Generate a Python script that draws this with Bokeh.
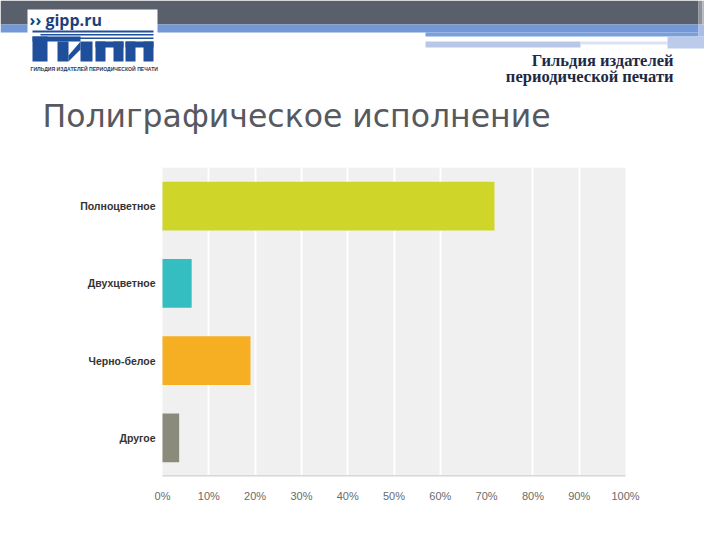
from bokeh.plotting import figure
from bokeh.models import (ColumnDataSource, FactorRange, Range1d, FixedTicker,
                          PrintfTickFormatter, Label, BoxAnnotation)
from bokeh.layouts import column
from bokeh.embed import file_html
from bokeh.resources import INLINE

# ---- data ----
categories = ["Полноцветное", "Двухцветное", "Черно-белое", "Другое"]
values = [71.7, 6.3, 19.0, 3.6]
bar_colors = ["#d0d52a", "#35bec1", "#f6ae23", "#8b8b7c"]
x_ticks = [0, 10, 20, 30, 40, 50, 60, 70, 80, 90, 100]
grid_ticks = [10, 20, 30, 40, 50, 60, 80, 90]

title_text = "Полиграфическое исполнение"
org_line1 = "Гильдия издателей"
org_line2 = "периодической печати"
logo_small = "ГИЛЬДИЯ ИЗДАТЕЛЕЙ ПЕРИОДИЧЕСКОЙ ПЕЧАТИ"

W = 704
HEAD_H = 152
CHART_H = 372

# ---- header (slide decoration) ----
h = figure(width=W, height=HEAD_H, x_range=Range1d(0, W), y_range=Range1d(HEAD_H, 0),
           output_backend="svg", toolbar_location=None,
           x_axis_location=None, y_axis_location=None, min_border=0)
h.outline_line_color = None
h.grid.visible = False
h.background_fill_color = "white"
h.border_fill_color = "white"

# dark band
h.quad(left=[0], right=[698], top=[0], bottom=[24], color="#595f6b", line_color=None)
h.quad(left=[698, 702, 706, 710], right=[702, 706, 710, 720], top=[0]*4, bottom=[24]*4,
       color=["#8e939b", "#b4b7bc", "#a3a7ad", "#c9cacc"], line_color=None)
# blue bands
h.quad(left=[0], right=[698], top=[24], bottom=[32], color="#7298d8", line_color=None)
h.quad(left=[425], right=[698], top=[32], bottom=[36], color="#7a9fdc", line_color=None)
h.quad(left=[425], right=[580], top=[41], bottom=[47], color="#b9c7e6", line_color=None)
h.quad(left=[580], right=[667], top=[41], bottom=[44], color="#dbe3f3", line_color=None)
h.quad(left=[667], right=[720], top=[36], bottom=[48], color="#bccbeb", line_color=None)
h.quad(left=[698], right=[720], top=[24], bottom=[36], color="#a9bde6", line_color=None)

# logo box
h.quad(left=[27], right=[157], top=[9], bottom=[64], color="white", line_color=None)
h.add_layout(Label(x=29, y=19, text="›› gipp.ru", text_font="Open Sans",
                   text_font_style="bold", text_font_size="16px", text_color="#1e3f7c",
                   text_baseline="middle"))
logo_blue = "#1f4f9b"
# top stripes
h.quad(left=[32, 40, 48], right=[153, 153, 153], top=[30, 33.5, 37], bottom=[32, 35, 38.5],
       color=logo_blue, line_color=None)
# Г
h.quad(left=[32, 32], right=[80, 47], top=[36, 36], bottom=[41, 61], color=logo_blue, line_color=None)
# И legs
h.quad(left=[57, 80], right=[68, 92], top=[41, 41], bottom=[61, 61], color=logo_blue, line_color=None)
h.patch(x=[68, 80, 80, 68], y=[55, 41, 49, 61], color=logo_blue, line_color=None)
# П П
h.quad(left=[95, 95, 113, 125, 125, 143], right=[123, 105, 123, 153, 135, 153],
       top=[41, 41, 41, 41, 41, 41], bottom=[47, 61, 61, 47, 61, 61],
       color=logo_blue, line_color=None)
h.add_layout(Label(x=30, y=68.5, text=logo_small, text_font="Liberation Sans",
                   text_font_style="bold", text_font_size="5.1px", text_color="#2a3a5a",
                   text_baseline="middle"))

# organisation name
h.add_layout(Label(x=673, y=60, text=org_line1, text_font="Liberation Serif",
                   text_font_style="bold", text_font_size="16.5px", text_color="#1d2a45",
                   text_align="right", text_baseline="middle"))
h.add_layout(Label(x=673, y=75.5, text=org_line2, text_font="Liberation Serif",
                   text_font_style="bold", text_font_size="16.5px", text_color="#1d2a45",
                   text_align="right", text_baseline="middle"))

# title
h.add_layout(Label(x=42, y=115, text=title_text, text_font="DejaVu Sans",
                   text_font_size="31.5px", text_color="#56595f",
                   text_baseline="middle"))

# ---- chart ----
# frame spans the full width; the 0..100 % scale maps to pixels 162..625
X0, X100 = 162, 625
ppu = (X100 - X0) / 100.0
x_start = -X0 / ppu
x_end = 100 + (W - X100) / ppu

src = ColumnDataSource(dict(cat=categories, val=values, col=bar_colors))
p = figure(width=W, height=CHART_H, y_range=FactorRange(factors=list(reversed(categories))),
           x_range=Range1d(x_start, x_end), output_backend="svg", toolbar_location=None,
           y_axis_location=None,
           min_border_left=0, min_border_right=0, min_border_top=15, min_border_bottom=48)
p.y_range.range_padding = 0

# plot-area background only over 0..100 %
p.add_layout(BoxAnnotation(left=0, right=100, fill_color="#f0f0f0", fill_alpha=1,
                           line_color=None, level="image"))

p.hbar(y="cat", right="val", left=0, height=0.63, color="col", line_color=None, source=src)

# category labels
p.text(x=0, y="cat", text="cat", source=src, x_offset=-7, text_align="right",
       text_baseline="middle", text_font_size="10.5px", text_font_style="bold",
       text_color="#333333", text_font={"value": "Liberation Sans"})

# bottom axis line over 0..100
p.segment(x0=[0], x1=[100], y0=[0], y1=[0], line_color="#d8d8d8", line_width=3)

p.background_fill_color = "white"
p.border_fill_color = "white"
p.outline_line_color = None
p.ygrid.visible = False
p.xgrid.grid_line_color = "white"
p.xgrid.grid_line_width = 2
p.xaxis.ticker = FixedTicker(ticks=x_ticks)
p.xgrid.ticker = FixedTicker(ticks=grid_ticks)
p.xaxis.formatter = PrintfTickFormatter(format="%d%%")
p.xaxis.axis_line_color = None
p.xaxis.major_tick_line_color = None
p.xaxis.minor_tick_line_color = None
p.xaxis.major_label_standoff = 7
p.xaxis.major_label_text_font = "Liberation Sans"
p.xaxis.major_label_text_font_size = "11px"
p.xaxis.major_label_text_color = "#6a6a6a"

layout = column(h, p, spacing=0)
open("out.html", "w").write(file_html(layout, INLINE))
